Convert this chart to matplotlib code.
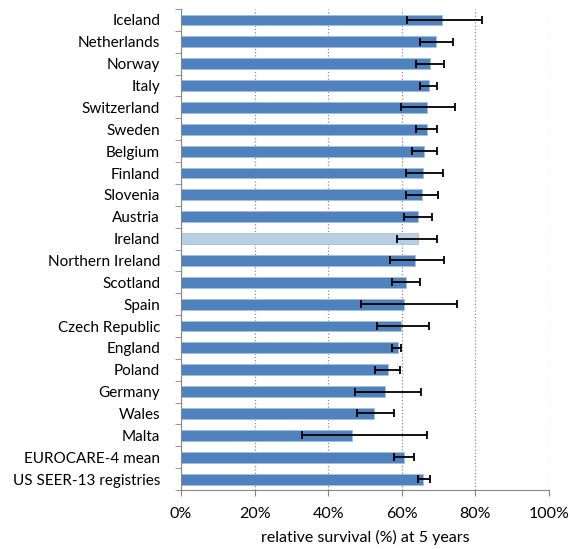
import matplotlib
matplotlib.use("Agg")
import matplotlib.pyplot as plt
import numpy as np

plt.rcParams['font.family'] = ['Lato', 'DejaVu Sans']

countries = ['Iceland', 'Netherlands', 'Norway', 'Italy', 'Switzerland', 'Sweden',
             'Belgium', 'Finland', 'Slovenia', 'Austria', 'Ireland', 'Northern Ireland',
             'Scotland', 'Spain', 'Czech Republic', 'England', 'Poland', 'Germany',
             'Wales', 'Malta', 'EUROCARE-4 mean', 'US SEER-13 registries']
survival = [70.9, 69.4, 67.6, 67.3, 66.8, 66.8, 66.1, 65.8, 65.4, 64.3, 64.3, 63.6,
            61.1, 60.5, 59.8, 58.9, 56.2, 55.4, 52.5, 46.5, 60.5, 65.9]
ci_low = [61.3, 64.9, 63.9, 64.9, 59.9, 63.9, 62.9, 61.1, 61.1, 60.7, 58.8, 56.7,
          57.4, 48.8, 53.2, 57.4, 52.8, 47.4, 47.8, 32.8, 57.8, 64.3]
ci_high = [81.8, 73.9, 71.5, 69.7, 74.6, 69.7, 69.7, 71.1, 69.9, 68.2, 69.7, 71.5,
           64.9, 74.9, 67.4, 59.9, 59.5, 65.3, 57.8, 66.8, 63.2, 67.8]

val = np.array(survival)
err = [val - np.array(ci_low), np.array(ci_high) - val]
y = np.arange(len(countries))
colors = ['#B9CDE5' if c == 'Ireland' else '#4F81BD' for c in countries]

fig = plt.figure(figsize=(5.7, 5.49), dpi=100)
ax = fig.add_axes([0.3175, 0.1075, 0.6455, 0.876])

ax.barh(y, val, height=0.5, color=colors, edgecolor='#A7BFDE', linewidth=0.6, zorder=2)
ax.errorbar(val, y, xerr=err, fmt='none', ecolor='black', elinewidth=1.3,
            capsize=3, capthick=1.3, zorder=3)

ax.set_xlim(0, 100)
ax.set_ylim(len(countries) - 0.5, -0.5)
ax.set_xticks([0, 20, 40, 60, 80, 100])
ax.set_xticklabels(['0%', '20%', '40%', '60%', '80%', '100%'], fontsize=11.5)
ax.set_yticks(y)
ax.set_yticklabels(countries, fontsize=11)
ax.set_yticks(np.arange(len(countries) + 1) - 0.5, minor=True)
ax.tick_params(axis='y', which='major', length=0, pad=15)
ax.tick_params(axis='y', which='minor', length=4, color='#868686')
ax.tick_params(axis='x', length=4, color='#868686', pad=8)
ax.xaxis.grid(True, linestyle=':', color='#8C8C8C', linewidth=0.9, zorder=0)
ax.set_axisbelow(True)
for s in ['top', 'right']:
    ax.spines[s].set_visible(False)
for s in ['left', 'bottom']:
    ax.spines[s].set_color('#868686')
ax.set_xlabel('relative survival (%) at 5 years', fontsize=11.5, labelpad=7)

fig.savefig('out.png', dpi=100)
